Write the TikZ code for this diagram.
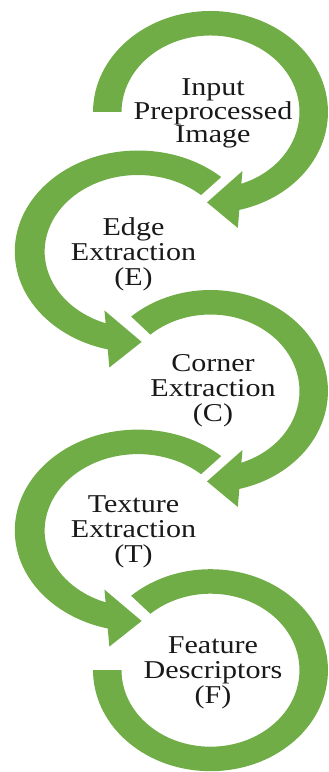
\documentclass[tikz,border=0pt]{standalone}
\usepackage{fontspec}
\setmainfont{Liberation Serif}
\definecolor{ringgreen}{RGB}{112,173,71}
\definecolor{stepink}{RGB}{25,25,25}

% ring arc from angle #1 round to a closing arrowhead (frame: centre at origin)
\newcommand\ringwithhead[1]{%
  \fill[ringgreen] (#1:101) arc[start angle=#1, end angle=-75.8, radius=101]
    -- (23.5,-116) -- (-3,-90.4) -- (27.5,-59)
    -- (-69.7:76.5) arc[start angle=-69.7, end angle=#1, radius=76.5] -- cycle;}
% plain ring arc from angle #1 down to angle #2
\newcommand\ringplain[2]{%
  \fill[ringgreen] (#1:101) arc[start angle=#1, end angle=#2, radius=101]
    -- (#2:76.5) arc[start angle=#2, end angle=#1, radius=76.5] -- cycle;}

\tikzset{
  steptext/.style={align=center, text=stepink, xscale=1.17, inner sep=0pt,
    font=\fontsize{25.7}{25}\selectfont},
  rightring/.style={shift={(210.5,#1)}, xscale=1.163},
  leftring/.style={shift={(138,#1)}, xscale=-1.22}
}

\begin{document}
\begin{tikzpicture}[x=1pt, y=1pt]
  \useasboundingbox (0,0) rectangle (329,772);

  % rings, top to bottom
  \begin{scope}[rightring=660]   \ringwithhead{180}   \end{scope}
  \begin{scope}[leftring=520.5]  \ringwithhead{132.5} \end{scope}
  \begin{scope}[rightring=381]   \ringwithhead{132.5} \end{scope}
  \begin{scope}[leftring=241.4]  \ringwithhead{132.5} \end{scope}
  \begin{scope}[rightring=101.8] \ringplain{132.5}{-180} \end{scope}

  % step labels
  \node[steptext, font=\fontsize{25.7}{23.5}\selectfont] (input) at (213,658.5)
    {Input\\Preprocessed\\Image};
  \node[steptext] (edge)    at (133.5,518) {Edge\\Extraction\\(E)};
  \node[steptext] (corner)  at (213,381)   {Corner\\Extraction\\(C)};
  \node[steptext] (texture) at (133.5,240) {Texture\\Extraction\\(T)};
  \node[steptext] (feature) at (213,99)    {Feature\\Descriptors\\(F)};
\end{tikzpicture}
\end{document}
